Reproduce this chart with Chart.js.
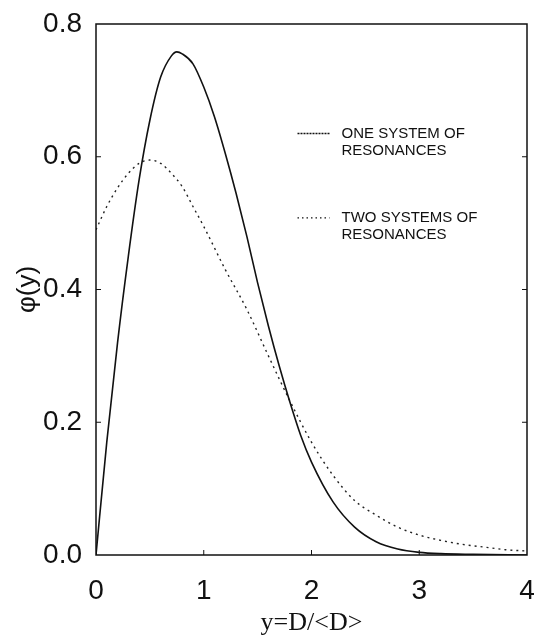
<!DOCTYPE html>
<html>
<head>
<meta charset="utf-8">
<script src="https://cdn.jsdelivr.net/npm/chart.js@4.4.1/dist/chart.umd.min.js"></script>
<style>
  html, body { margin: 0; padding: 0; background: #fff; }
  #wrap { width: 538px; height: 641px; }
</style>
</head>
<body>
<div id="wrap"><canvas id="chart" width="538" height="641"></canvas></div>
<script>
// one system of resonances (solid)
const oneX = [0, 0.1, 0.2, 0.3, 0.4, 0.5, 0.6, 0.7, 0.75, 0.8, 0.9, 1.0, 1.1, 1.2, 1.3, 1.4, 1.5, 1.6, 1.7, 1.8, 1.9, 2.0, 2.2, 2.4, 2.6, 2.8, 3.0, 3.2, 3.5, 4.0];
const oneY = [0, 0.17, 0.32, 0.45, 0.565, 0.655, 0.72, 0.752, 0.758, 0.755, 0.74, 0.705, 0.66, 0.605, 0.545, 0.48, 0.41, 0.345, 0.285, 0.23, 0.18, 0.14, 0.08, 0.042, 0.02, 0.009, 0.004, 0.002, 0.001, 0];
// two systems of resonances (dotted)
const twoX = [0, 0.1, 0.2, 0.3, 0.4, 0.5, 0.6, 0.7, 0.8, 0.9, 1.0, 1.2, 1.4, 1.6, 1.8, 2.0, 2.2, 2.4, 2.6, 2.8, 3.0, 3.2, 3.4, 3.6, 3.8, 4.0];
const twoY = [0.49, 0.525, 0.553, 0.575, 0.59, 0.595, 0.59, 0.575, 0.555, 0.525, 0.495, 0.43, 0.37, 0.30, 0.232, 0.17, 0.12, 0.082, 0.06, 0.042, 0.03, 0.022, 0.016, 0.012, 0.008, 0.006];
const legendText = [['ONE SYSTEM OF', 'RESONANCES'], ['TWO SYSTEMS OF', 'RESONANCES']];
const yTicks = [0, 0.2, 0.4, 0.6, 0.8];
const xTicks = [0, 1, 2, 3, 4];

const pts = (xs, ys) => xs.map((x, i) => ({x: x, y: ys[i]}));

// frame, inward ticks and the legend inside the plot
const framePlugin = {
    id: 'frame',
    afterDraw(chart) {
        const {ctx, chartArea: a, scales} = chart;
        ctx.save();
        ctx.strokeStyle = '#111';
        ctx.lineWidth = 1.5;
        ctx.setLineDash([]);
        ctx.strokeRect(a.left, a.top, a.right - a.left, a.bottom - a.top);
        ctx.lineWidth = 1;
        yTicks.slice(1, -1).forEach(v => {
            const py = scales.y.getPixelForValue(v);
            ctx.beginPath();
            ctx.moveTo(a.left, py); ctx.lineTo(a.left + 5, py);
            ctx.moveTo(a.right, py); ctx.lineTo(a.right - 5, py);
            ctx.stroke();
        });
        xTicks.slice(1, -1).forEach(v => {
            const px = scales.x.getPixelForValue(v);
            ctx.beginPath();
            ctx.moveTo(px, a.bottom); ctx.lineTo(px, a.bottom - 5);
            ctx.stroke();
        });
        // legend
        const lx = scales.x.getPixelForValue(1.87);
        const rows = [scales.y.getPixelForValue(0.635), scales.y.getPixelForValue(0.508)];
        ctx.font = '15px "Liberation Sans", Arial, sans-serif';
        ctx.fillStyle = '#111';
        ctx.textBaseline = 'middle';
        chart.data.datasets.forEach((ds, i) => {
            const y0 = rows[i];
            ctx.beginPath();
            ctx.lineWidth = 1.3;
            ctx.setLineDash(i === 0 ? [2, 1] : [1.5, 3]);
            ctx.moveTo(lx, y0); ctx.lineTo(lx + 32, y0);
            ctx.stroke();
            ctx.setLineDash([]);
            ctx.fillText(legendText[i][0], lx + 44, y0);
            ctx.fillText(legendText[i][1], lx + 44, y0 + 17);
        });
        ctx.restore();
    }
};

const config = {
    type: 'scatter',
    data: {
        datasets: [{
            label: 'ONE SYSTEM OF RESONANCES',
            data: pts(oneX, oneY),
            showLine: true,
            borderColor: '#111',
            borderWidth: 1.6,
            pointRadius: 0,
            cubicInterpolationMode: 'monotone'
        }, {
            label: 'TWO SYSTEMS OF RESONANCES',
            data: pts(twoX, twoY),
            showLine: true,
            borderColor: '#222',
            borderWidth: 1.4,
            borderDash: [2, 4],
            pointRadius: 0,
            cubicInterpolationMode: 'monotone'
        }]
    },
    options: {
        responsive: false,
        animation: false,
        layout: { padding: { top: 24, right: 11, left: 0, bottom: 0 } },
        plugins: {
            legend: { display: false },
            tooltip: { enabled: false }
        },
        scales: {
            x: {
                type: 'linear',
                min: 0,
                max: 4,
                afterFit: s => { s.height = 86; s.paddingLeft = 0; s.paddingRight = 0; },
                afterBuildTicks: s => { s.ticks = xTicks.map(v => ({value: v})); },
                grid: { display: false, drawTicks: false },
                border: { display: false },
                ticks: {
                    color: '#111',
                    padding: 19,
                    font: { family: '"Liberation Sans", Arial, sans-serif', size: 28 }
                },
                title: {
                    display: true,
                    text: 'y=D/<D>',
                    color: '#111',
                    padding: { top: 4, bottom: 2 },
                    font: { family: '"Liberation Serif", "Times New Roman", serif', size: 26 }
                }
            },
            y: {
                min: 0,
                max: 0.8,
                afterFit: s => { s.width = 96; s.paddingTop = 0; s.paddingBottom = 0; },
                afterBuildTicks: s => { s.ticks = yTicks.map(v => ({value: v})); },
                grid: { display: false, drawTicks: false },
                border: { display: false },
                ticks: {
                    color: '#111',
                    padding: 14,
                    callback: v => v.toFixed(1),
                    font: { family: '"Liberation Sans", Arial, sans-serif', size: 28 }
                },
                title: {
                    display: true,
                    text: 'φ(y)',
                    color: '#111',
                    padding: { top: 12, bottom: 0 },
                    font: { family: '"Liberation Sans", Arial, sans-serif', size: 26 }
                }
            }
        }
    },
    plugins: [framePlugin]
};

new Chart(document.getElementById('chart'), config);
</script>
</body>
</html>
